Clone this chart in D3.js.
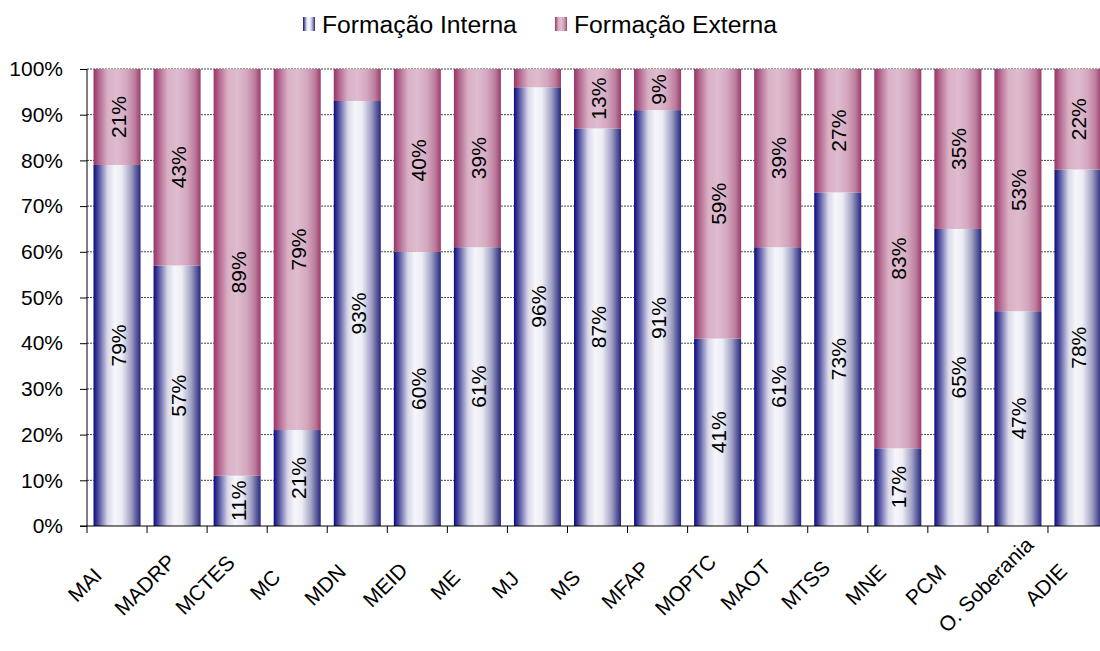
<!DOCTYPE html>
<html><head><meta charset="utf-8">
<script src="https://cdn.jsdelivr.net/npm/d3@7"></script>
<style>body{margin:0;background:#fff;} text{font-family:"Liberation Sans",Arial,sans-serif;}</style>
</head><body><svg id="c" width="1100" height="651"></svg>
<script>
const categories = ["MAI","MADRP","MCTES","MC","MDN","MEID","ME","MJ","MS","MFAP","MOPTC","MAOT","MTSS","MNE","PCM","O. Soberania","ADIE"];
const interna = [79,57,11,21,93,60,61,96,87,91,41,61,73,17,65,47,78];
const externa = [21,43,89,79,7,40,39,4,13,9,59,39,27,83,35,53,22];
const seriesNames = ["Formação Interna","Formação Externa"];
const yTicks = [0,10,20,30,40,50,60,70,80,90,100];

const svg = d3.select("#c");
const mLeft = 87, mTop = 69, mBottom = 526, band = 60.06;
const x = d3.scaleBand().domain(categories).range([mLeft, mLeft + band*categories.length]).paddingInner(13/60).paddingOuter(6.5/60);
const y = d3.scaleLinear().domain([0,100]).range([mBottom, mTop]);

const defs = svg.append("defs");
function grad(id, stops){
  const g = defs.append("linearGradient").attr("id", id).attr("x1","0%").attr("x2","100%").attr("y1","0%").attr("y2","0%");
  stops.forEach(s => g.append("stop").attr("offset", s[0]).attr("stop-color", s[1]));
}
grad("gi", [["0%","#0a0a80"],["12%","#5a5aa4"],["30%","#d8d8ea"],["45%","#f6f6fb"],["60%","#ececf4"],["80%","#a0a0c4"],["100%","#26267e"]]);
grad("ge", [["0%","#993366"],["12%","#b46890"],["30%","#d8b0c4"],["50%","#dfbcd0"],["70%","#d4a8be"],["88%","#bc7c9c"],["100%","#9c3a6a"]]);

// gridlines
svg.append("g").selectAll("line").data(yTicks.filter(d=>d>0)).join("line")
  .attr("x1", mLeft).attr("x2", 1100).attr("y1", d=>y(d)).attr("y2", d=>y(d))
  .attr("stroke","#444").attr("stroke-width",1).attr("stroke-dasharray","2,1");

const stack = categories.map((c,i)=>({c, a:interna[i], b:externa[i]}));
const g = svg.append("g");
g.selectAll("rect.i").data(stack).join("rect")
  .attr("x", d=>x(d.c)).attr("width", x.bandwidth())
  .attr("y", d=>y(d.a)).attr("height", d=>y(0)-y(d.a)).attr("fill","url(#gi)");
g.selectAll("rect.e").data(stack).join("rect")
  .attr("x", d=>x(d.c)).attr("width", x.bandwidth())
  .attr("y", d=>y(d.a+d.b)).attr("height", d=>y(d.a)-y(d.a+d.b)).attr("fill","url(#ge)");

function lab(mid){
  return d => `translate(${x(d.c)+x.bandwidth()/2+8.5},${y(mid(d))}) rotate(-90)`;
}
g.selectAll("text.i").data(stack).join("text")
  .attr("transform", lab(d=>d.a/2)).attr("text-anchor","middle")
  .attr("font-size",21).attr("fill","#000").text(d=>d.a+"%");
g.selectAll("text.e").data(stack.filter(d=>d.b>=8)).join("text")
  .attr("transform", lab(d=>d.a+d.b/2)).attr("text-anchor","middle")
  .attr("font-size",21).attr("fill","#000").text(d=>d.b+"%");

// axes
const ya = svg.append("g").attr("transform",`translate(${mLeft},0)`)
  .call(d3.axisLeft(y).tickValues(yTicks).tickFormat(d=>d+"%").tickSize(7).tickPadding(17));
ya.selectAll("text").attr("font-size",21).attr("fill","#000").style("font-family","'Liberation Sans',Arial,sans-serif");
ya.selectAll("line,path").attr("stroke","#000");
ya.select(".domain").attr("d",`M0,${mBottom}V${mTop}`);

const xa = svg.append("g").attr("transform",`translate(0,${mBottom})`)
  .call(d3.axisBottom(x).tickSize(0).tickFormat(""));
xa.select(".domain").attr("d",`M${mLeft-7},0H1100`).attr("stroke","#000");
svg.append("g").selectAll("line").data(d3.range(categories.length)).join("line")
  .attr("x1", i=>mLeft+i*band).attr("x2", i=>mLeft+i*band).attr("y1",mBottom).attr("y2",mBottom+7).attr("stroke","#000");
svg.append("g").selectAll("text").data(categories).join("text")
  .attr("transform", d=>`translate(${x(d)+x.bandwidth()/2-27},${mBottom+64}) rotate(-45)`)
  .attr("text-anchor","middle").attr("font-size",21).attr("fill","#000").text(d=>d);

// legend
const lg = svg.append("g");
const lx = [303, 555];
seriesNames.forEach((n,i)=>{
  lg.append("rect").attr("x",lx[i]).attr("y",17).attr("width",12).attr("height",14).attr("fill", i? "url(#ge)":"url(#gi)");
  lg.append("text").attr("x",lx[i]+19).attr("y",33).attr("font-size",24.7).attr("fill","#000").text(n);
});
</script></body></html>
